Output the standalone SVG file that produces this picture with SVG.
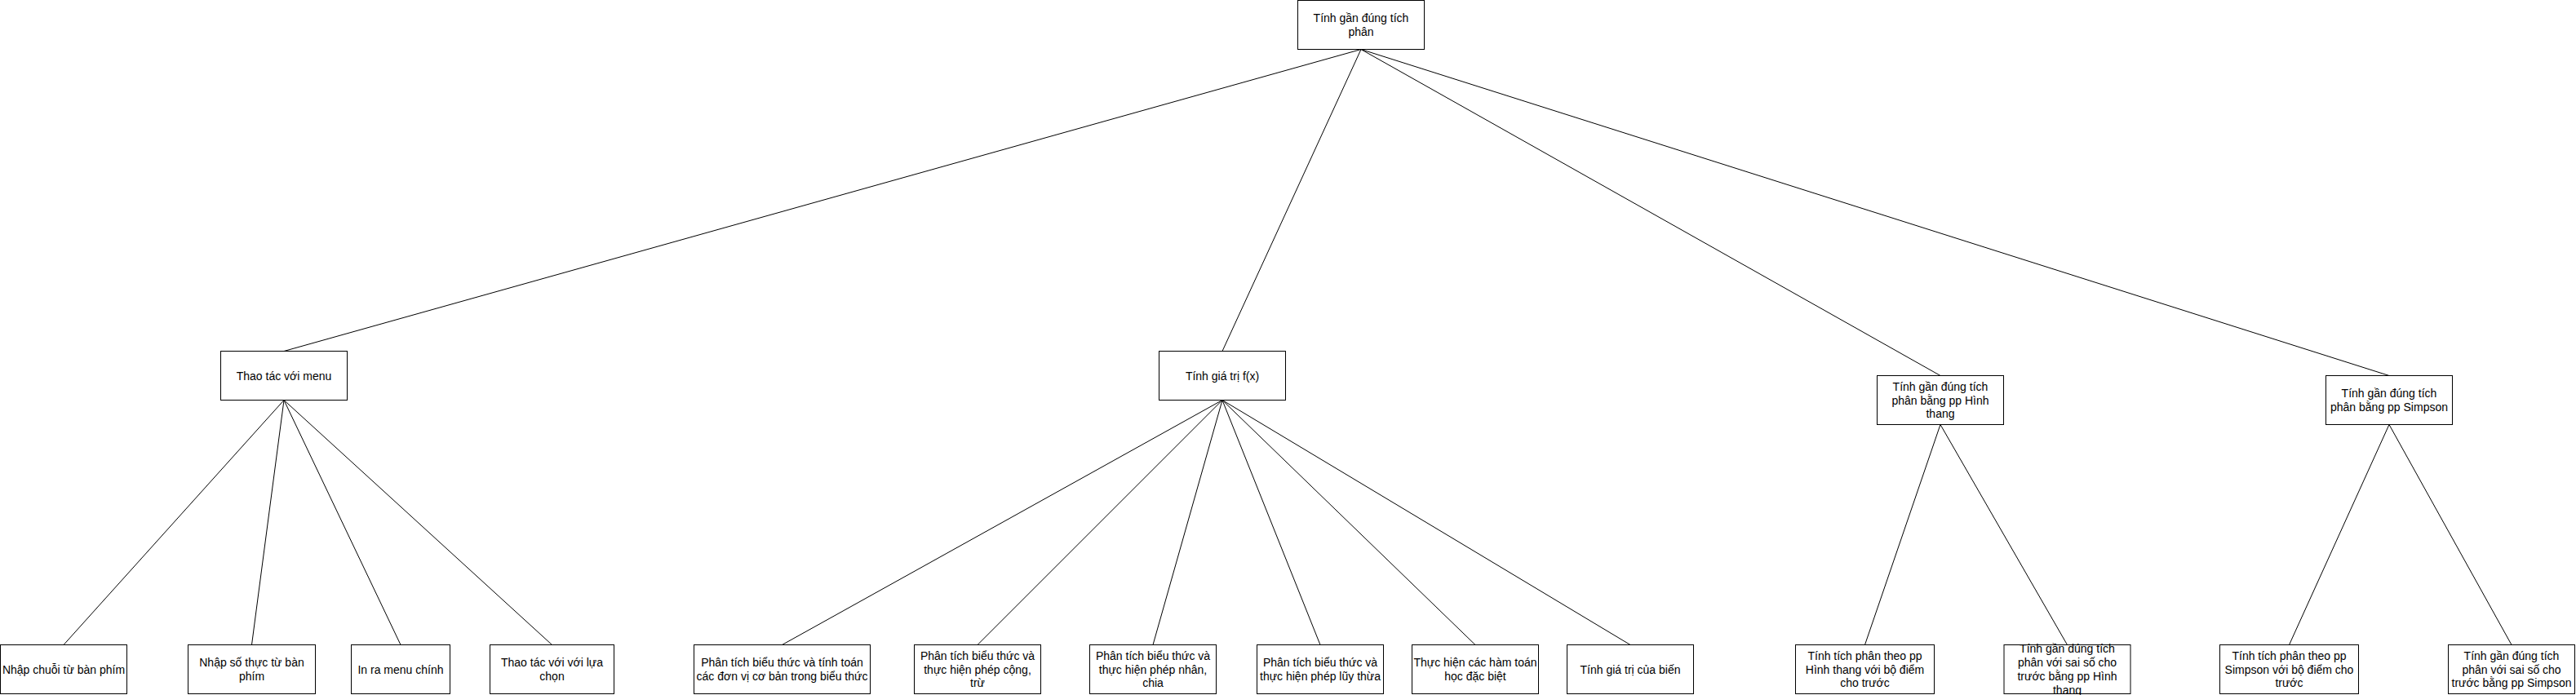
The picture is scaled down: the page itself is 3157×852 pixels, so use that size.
<svg xmlns="http://www.w3.org/2000/svg" width="3157" height="852" viewBox="0 0 3157 852">
<style>
.n rect{fill:#ffffff;stroke:#000000;stroke-width:1}
.n text{font-family:"Liberation Sans",Arial,Helvetica,sans-serif;font-size:14px;fill:#000000;text-anchor:middle;dominant-baseline:central}
#connectors line{stroke:#000000;stroke-width:1;fill:none}
</style>
<rect x="0" y="0" width="3157" height="852" fill="#ffffff"/>
<g id="connectors">
<line x1="1668" y1="60.5" x2="348" y2="430.5"/>
<line x1="1668" y1="60.5" x2="1498" y2="430.5"/>
<line x1="1668" y1="60.5" x2="2378" y2="460.5"/>
<line x1="1668" y1="60.5" x2="2928" y2="460.5"/>
<line x1="348" y1="490.5" x2="78" y2="790.5"/>
<line x1="348" y1="490.5" x2="308.5" y2="790.5"/>
<line x1="348" y1="490.5" x2="491" y2="790.5"/>
<line x1="348" y1="490.5" x2="676.5" y2="790.5"/>
<line x1="1498" y1="490.5" x2="958.5" y2="790.5"/>
<line x1="1498" y1="490.5" x2="1198" y2="790.5"/>
<line x1="1498" y1="490.5" x2="1413" y2="790.5"/>
<line x1="1498" y1="490.5" x2="1618" y2="790.5"/>
<line x1="1498" y1="490.5" x2="1808" y2="790.5"/>
<line x1="1498" y1="490.5" x2="1998" y2="790.5"/>
<line x1="2378" y1="520.5" x2="2285.5" y2="790.5"/>
<line x1="2378" y1="520.5" x2="2533.5" y2="790.5"/>
<line x1="2928" y1="520.5" x2="2805.5" y2="790.5"/>
<line x1="2928" y1="520.5" x2="3078" y2="790.5"/>
</g>
<g id="root" class="n"><rect x="1590.5" y="0.5" width="155" height="60"/><text><tspan x="1668" y="22.1">Tính gần đúng tích</tspan><tspan x="1668" y="38.9">phân</tspan></text></g>
<g id="menu" class="n"><rect x="270.5" y="430.5" width="155" height="60"/><text x="348" y="460.5">Thao tác với menu</text></g>
<g id="fx" class="n"><rect x="1420.5" y="430.5" width="155" height="60"/><text x="1498" y="460.5">Tính giá trị f(x)</text></g>
<g id="hinhthang" class="n"><rect x="2300.5" y="460.5" width="155" height="60"/><text><tspan x="2378" y="473.7">Tính gần đúng tích</tspan><tspan x="2378" y="490.5">phân bằng pp Hình</tspan><tspan x="2378" y="507.3">thang</tspan></text></g>
<g id="simpson" class="n"><rect x="2850.5" y="460.5" width="155" height="60"/><text><tspan x="2928" y="482.1">Tính gần đúng tích</tspan><tspan x="2928" y="498.9">phân bằng pp Simpson</tspan></text></g>
<g id="b1" class="n"><rect x="0.5" y="790.5" width="155" height="60"/><text x="78" y="820.5">Nhập chuỗi từ bàn phím</text></g>
<g id="b2" class="n"><rect x="230.5" y="790.5" width="156" height="60"/><text><tspan x="308.5" y="812.1">Nhập số thực từ bàn</tspan><tspan x="308.5" y="828.9">phím</tspan></text></g>
<g id="b3" class="n"><rect x="430.5" y="790.5" width="121" height="60"/><text x="491" y="820.5">In ra menu chính</text></g>
<g id="b4" class="n"><rect x="600.5" y="790.5" width="152" height="60"/><text><tspan x="676.5" y="812.1">Thao tác với với lựa</tspan><tspan x="676.5" y="828.9">chọn</tspan></text></g>
<g id="b5" class="n"><rect x="850.5" y="790.5" width="216" height="60"/><text><tspan x="958.5" y="812.1">Phân tích biểu thức và tính toán</tspan><tspan x="958.5" y="828.9">các đơn vị cơ bản trong biểu thức</tspan></text></g>
<g id="b6" class="n"><rect x="1120.5" y="790.5" width="155" height="60"/><text><tspan x="1198" y="803.7">Phân tích biểu thức và</tspan><tspan x="1198" y="820.5">thực hiện phép cộng,</tspan><tspan x="1198" y="837.3">trừ</tspan></text></g>
<g id="b7" class="n"><rect x="1335.5" y="790.5" width="155" height="60"/><text><tspan x="1413" y="803.7">Phân tích biểu thức và</tspan><tspan x="1413" y="820.5">thực hiện phép nhân,</tspan><tspan x="1413" y="837.3">chia</tspan></text></g>
<g id="b8" class="n"><rect x="1540.5" y="790.5" width="155" height="60"/><text><tspan x="1618" y="812.1">Phân tích biểu thức và</tspan><tspan x="1618" y="828.9">thực hiện phép lũy thừa</tspan></text></g>
<g id="b9" class="n"><rect x="1730.5" y="790.5" width="155" height="60"/><text><tspan x="1808" y="812.1">Thực hiện các hàm toán</tspan><tspan x="1808" y="828.9">học đặc biệt</tspan></text></g>
<g id="b10" class="n"><rect x="1920.5" y="790.5" width="155" height="60"/><text x="1998" y="820.5">Tính giá trị của biến</text></g>
<g id="b11" class="n"><rect x="2200.5" y="790.5" width="170" height="60"/><text><tspan x="2285.5" y="803.7">Tính tích phân theo pp</tspan><tspan x="2285.5" y="820.5">Hình thang với bộ điểm</tspan><tspan x="2285.5" y="837.3">cho trước</tspan></text></g>
<g id="b12" class="n"><rect x="2456" y="790.5" width="155" height="60"/><text><tspan x="2533.5" y="795.3">Tính gần đúng tích</tspan><tspan x="2533.5" y="812.1">phân với sai số cho</tspan><tspan x="2533.5" y="828.9">trước bằng pp Hình</tspan><tspan x="2533.5" y="845.7">thang</tspan></text></g>
<g id="b13" class="n"><rect x="2720.5" y="790.5" width="170" height="60"/><text><tspan x="2805.5" y="803.7">Tính tích phân theo pp</tspan><tspan x="2805.5" y="820.5">Simpson với bộ điểm cho</tspan><tspan x="2805.5" y="837.3">trước</tspan></text></g>
<g id="b14" class="n"><rect x="3000.5" y="790.5" width="155" height="60"/><text><tspan x="3078" y="803.7">Tính gần đúng tích</tspan><tspan x="3078" y="820.5">phân với sai số cho</tspan><tspan x="3078" y="837.3">trước bằng pp Simpson</tspan></text></g>
</svg>
